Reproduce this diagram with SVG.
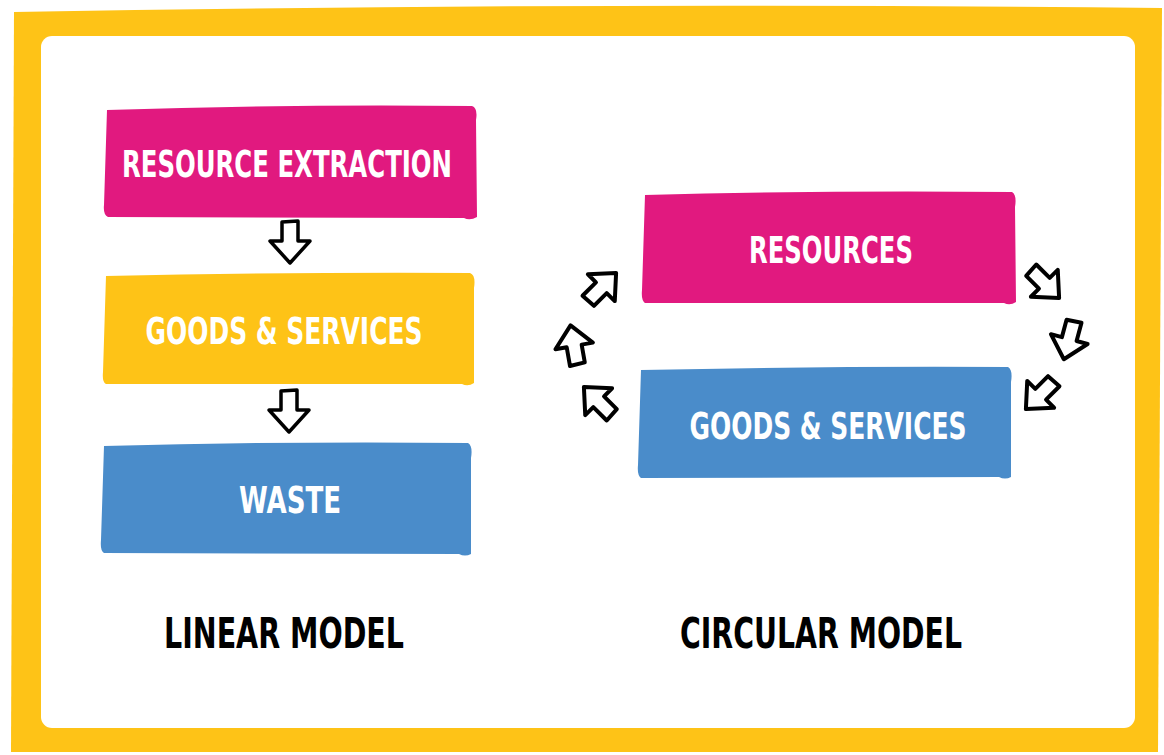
<svg xmlns="http://www.w3.org/2000/svg" width="1164" height="755" viewBox="0 0 1164 755">
<style>
.lbl{font-family:"DejaVu Sans Condensed","DejaVu Sans","Liberation Sans",sans-serif;font-weight:bold;font-size:38px;fill:#ffffff;text-anchor:middle;font-stretch:condensed}
.ttl{font-family:"DejaVu Sans Condensed","DejaVu Sans","Liberation Sans",sans-serif;font-weight:bold;font-size:42px;fill:#000000;text-anchor:middle;font-stretch:condensed}
.pink{fill:#E1197F}
.yel{fill:#FEC317}
.blue{fill:#4A8CCA}
.arr{fill:#ffffff;stroke:#000000;stroke-width:3.5;stroke-linejoin:round}
.arr2{fill:#ffffff;stroke:#000000;stroke-width:4.2;stroke-linejoin:round}
</style>
<defs>
<path id="ad" d="M-8,-20 L8,-21 L8,-1 L20,-1 L0,21 L-20,-1 L-8,-1 Z"/>
</defs>
<g id="frame">
<path d="M14,12 Q580,2 1162,8 L1158,752 L11,752 Z" fill="#FEC317"/>
<rect x="41" y="36" width="1094" height="692" rx="11" fill="#ffffff"/>
</g>
<g id="resource-extraction">
<path class="pink" d="M107,110 Q290,104 472,106 Q478,108 476,120 L477,217 Q470,221 464,218 L108,217 Q103,215 104,205 Z"/>
<text class="lbl" x="287" y="177" textLength="330" lengthAdjust="spacingAndGlyphs">RESOURCE EXTRACTION</text>
</g>
<g id="goods-services-linear">
<path class="yel" d="M106,276 Q290,272 470,273 Q476,275 474,288 L474,383 Q468,387 462,384 L106,384 Q102,382 103,372 Z"/>
<text class="lbl" x="284" y="344" textLength="277" lengthAdjust="spacingAndGlyphs">GOODS &amp; SERVICES</text>
</g>
<g id="waste">
<path class="blue" d="M104,446 Q290,441 468,443 Q473,446 471,458 L471,554 Q465,557 459,554 L104,553 Q100,551 101,540 Z"/>
<text class="lbl" x="290" y="513" textLength="102" lengthAdjust="spacingAndGlyphs">WASTE</text>
</g>
<g id="resources">
<path class="pink" d="M645,195 Q830,190 1012,192 Q1017,195 1015,207 L1016,302 Q1010,306 1004,303 L645,303 Q641,300 642,290 Z"/>
<text class="lbl" x="831" y="263" textLength="164" lengthAdjust="spacingAndGlyphs">RESOURCES</text>
</g>
<g id="goods-services-circular">
<path class="blue" d="M641,370 Q825,366 1008,367 Q1013,370 1011,382 L1011,477 Q1005,480 999,477 L641,478 Q637,475 638,465 Z"/>
<text class="lbl" x="828" y="439" textLength="277" lengthAdjust="spacingAndGlyphs">GOODS &amp; SERVICES</text>
</g>
<g id="linear-model-title">
<text class="ttl" x="284" y="648" textLength="240" lengthAdjust="spacingAndGlyphs">LINEAR MODEL</text>
</g>
<g id="circular-model-title">
<text class="ttl" x="821" y="648" textLength="282" lengthAdjust="spacingAndGlyphs">CIRCULAR MODEL</text>
</g>
<g id="connectors">
<use href="#ad" class="arr" transform="translate(290,242)"/>
<use href="#ad" class="arr" transform="translate(289,411)"/>
<use href="#ad" class="arr2" transform="translate(602,287) rotate(-135) scale(0.95)"/>
<use href="#ad" class="arr2" transform="translate(574,345) rotate(170) scale(0.95)"/>
<use href="#ad" class="arr2" transform="translate(598,401) rotate(135) scale(0.95)"/>
<use href="#ad" class="arr2" transform="translate(1045,284) rotate(-45) scale(0.95)"/>
<use href="#ad" class="arr2" transform="translate(1069,340) rotate(15) scale(0.95)"/>
<use href="#ad" class="arr2" transform="translate(1040,395) rotate(45) scale(0.95)"/>
</g>
</svg>
